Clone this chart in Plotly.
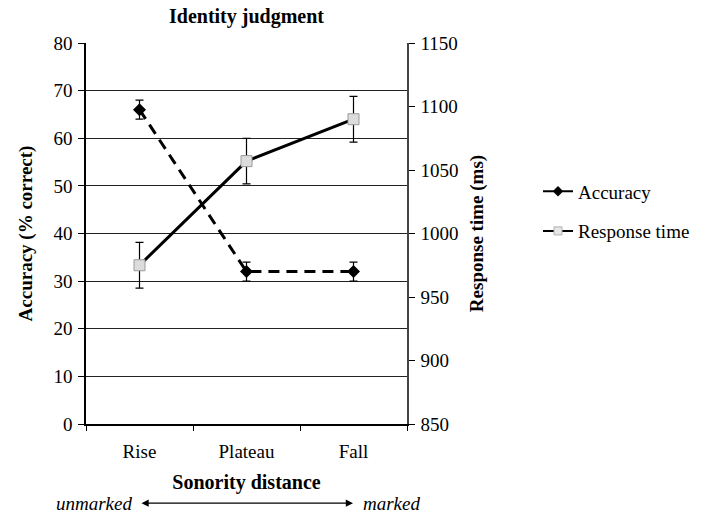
import plotly.graph_objects as go

categories = ["Rise", "Plateau", "Fall"]
accuracy = [66, 32, 32]
accuracy_err = [2, 2, 2]
response_time = [975, 1057, 1090]
response_time_err = [18, 18, 18]

FONT = "Liberation Serif"

fig = go.Figure()

# Accuracy (left axis) – dashed line with black diamonds
fig.add_trace(go.Scatter(
    x=categories, y=accuracy, mode="lines+markers", name="Accuracy",
    line=dict(color="black", width=3, dash="11px,7px"),
    marker=dict(symbol="diamond", size=10, color="black"),
    error_y=dict(type="data", array=accuracy_err, color="black", thickness=1.2, width=4),
    showlegend=False, yaxis="y",
))

# Response time (right axis) – solid line with grey squares
fig.add_trace(go.Scatter(
    x=categories, y=response_time, mode="lines+markers", name="Response time",
    line=dict(color="black", width=3),
    marker=dict(symbol="square", size=11, color="#dcdcdc", line=dict(color="#9a9a9a", width=1)),
    error_y=dict(type="data", array=response_time_err, color="black", thickness=1.2, width=4),
    showlegend=False, yaxis="y2",
))

# Legend entries (solid lines as in the original legend)
fig.add_trace(go.Scatter(
    x=[None], y=[None], mode="lines+markers", name="Accuracy",
    line=dict(color="black", width=2),
    marker=dict(symbol="diamond", size=8, color="black"),
    legendgroup="a", yaxis="y",
))
fig.add_trace(go.Scatter(
    x=[None], y=[None], mode="lines+markers", name="Response time",
    line=dict(color="black", width=2),
    marker=dict(symbol="square", size=8, color="#e6e6e6", line=dict(color="#b0b0b0", width=1)),
    legendgroup="b", yaxis="y",
))

fig.update_layout(
    width=710, height=516,
    margin=dict(l=86, r=303, t=43, b=92),
    paper_bgcolor="white", plot_bgcolor="white",
    font=dict(family=FONT, size=19, color="black"),
    title=dict(text="<b>Identity judgment</b>", x=(86 + 407) / 2 / 710, xanchor="center",
               y=1 - 16 / 516, yanchor="middle", font=dict(size=20)),
    xaxis=dict(
        type="category", range=[-0.5, 2.5], tickson="boundaries",
        ticks="outside", ticklen=5, tickcolor="black", tickwidth=1,
        showline=True, linecolor="black", linewidth=1.5, showgrid=False,
        ticklabelstandoff=9, automargin=False,
        title=dict(text="<b>Sonority distance</b>", standoff=14, font=dict(size=20)),
    ),
    yaxis=dict(
        range=[0, 80], dtick=10, ticks="outside", ticklen=6, tickcolor="black",
        showline=True, linecolor="black", linewidth=1.5,
        showgrid=True, gridcolor="#222222", gridwidth=1, zeroline=False,
        ticklabelstandoff=2, automargin=False,
        title=dict(text="<b>Accuracy (% correct)</b>", standoff=16, font=dict(size=19)),
    ),
    yaxis2=dict(
        range=[850, 1150], dtick=50, overlaying="y", side="right",
        ticks="outside", ticklen=6, tickcolor="black",
        showline=True, linecolor="#444444", linewidth=1.5, showgrid=False, zeroline=False,
        ticklabelstandoff=2, automargin=False,
        title=dict(text="<b>Response time (ms)</b>", standoff=12, font=dict(size=19)),
    ),
    legend=dict(
        x=(538 - 86) / 321, xanchor="left", y=(424 - 173) / 380, yanchor="top",
        font=dict(size=19), tracegroupgap=12, bgcolor="rgba(0,0,0,0)",
    ),
    annotations=[
        dict(text="<i>unmarked</i>", x=(134 - 86) / 321, y=-(503 - 424) / 380,
             xref="paper", yref="paper", xanchor="right", yanchor="middle",
             showarrow=False, font=dict(family=FONT, size=19)),
        dict(text="<i>marked</i>", x=(361 - 86) / 321, y=-(503 - 424) / 380,
             xref="paper", yref="paper", xanchor="left", yanchor="middle",
             showarrow=False, font=dict(family=FONT, size=19)),
        dict(text="", x=(353 - 86) / 321, y=-(503 - 424) / 380,
             xref="paper", yref="paper", showarrow=True,
             ax=-(353 - 140), ay=0, arrowside="end+start",
             arrowhead=2, arrowsize=1.2, arrowwidth=1.2, arrowcolor="black"),
    ],
)

fig.write_html("out.html", config={"displayModeBar": False},
               post_script="document.body.style.margin='0';")
